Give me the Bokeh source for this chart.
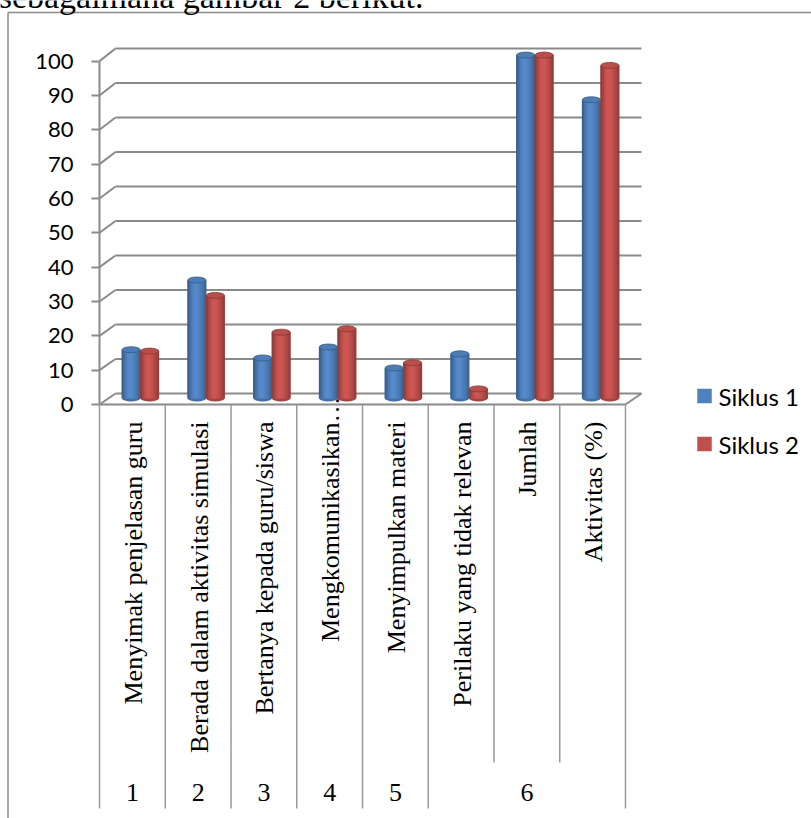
import numpy as np
from bokeh.plotting import figure
from bokeh.models import Range1d, LinearAxis, FixedTicker
from bokeh.core.properties import value
from bokeh.embed import file_html
from bokeh.resources import INLINE

# ---- data -------------------------------------------------------------
categories = [
    "Menyimak penjelasan guru",
    "Berada dalam aktivitas simulasi",
    "Bertanya kepada guru/siswa",
    "Mengkomunikasikan\u2026",
    "Menyimpulkan materi",
    "Perilaku yang tidak relevan",
    "Jumlah",
    "Aktivitas (%)",
]
group_labels = ["1", "2", "3", "4", "5", "6"]
group_spans = [(0, 1), (1, 2), (2, 3), (3, 4), (4, 5), (5, 8)]
siklus1 = [14.2, 34.5, 11.8, 15.0, 8.9, 13.0, 100.0, 87.0]
siklus2 = [13.8, 30.0, 19.3, 20.3, 10.4, 2.8, 100.0, 97.0]
series_names = ["Siklus 1", "Siklus 2"]
series_colors = ["#4F81BD", "#C0504D"]
y_ticks = list(range(0, 101, 10))
caption = "sebagaimana gambar 2 berikut."

# ---- layout (pixels) --------------------------------------------------
W, H = 811, 818
AXIS_X = 99            # pixel column of the front value axis
COL_W = 65.75          # width of one category column on the front edge
Y0 = 404.0             # pixel row of value 0 on the front edge
PPU = 3.434            # pixels per value unit
MID = (8.0, -6.0)      # depth offset of the bars
BACK = (16.0, -11.0)   # depth offset of the back wall
BACK_PPU = 3.45
GRID = "#8a8a8a"
SERIF = "Liberation Serif"
SANS = "Lato"

n_cat = len(categories)


def px2x(px):
    return (px - AXIS_X) / COL_W


def px2y(py):
    return (Y0 - py) / PPU


def shifted_ranges(dx, dy, ppu):
    base = Y0 + dy
    xr = Range1d(px2x(0) - dx / COL_W, px2x(W) - dx / COL_W)
    yr = Range1d(-(H - base) / ppu, base / ppu)
    return xr, yr


# the plotting frame covers the whole canvas
p = figure(width=W, height=H, output_backend="svg", toolbar_location=None,
           x_axis_type=None, y_axis_type=None,
           x_range=Range1d(px2x(0), px2x(W)), y_range=Range1d(px2y(H), px2y(0)),
           min_border_left=0, min_border_right=0,
           min_border_top=0, min_border_bottom=0)
p.outline_line_color = None
p.background_fill_color = "white"
p.border_fill_color = "white"

mx, my = shifted_ranges(*MID, PPU)
bx, by = shifted_ranges(*BACK, BACK_PPU)
p.extra_x_ranges = {"mid": mx, "back": bx}
p.extra_y_ranges = {"mid": my, "back": by}

# ---- outer chart border and caption text above it ---------------------
bl, bt = px2x(7.5), px2y(12)
p.segment(x0=[bl, bl], y0=[bt, bt], x1=[bl, px2x(W + 10)], y1=[px2y(H + 10), bt],
          line_color="#8c8c8c", line_width=1.5)
p.text(x=[px2x(423)], y=[px2y(-4)], text=[caption],
       text_align="right", text_baseline="middle",
       text_font=value(SERIF), text_font_size="34px", text_color="black")

# ---- back wall gridlines ----------------------------------------------
p.segment(x0=[0] * len(y_ticks), y0=y_ticks, x1=[n_cat] * len(y_ticks), y1=y_ticks,
          x_range_name="back", y_range_name="back", line_color=GRID, line_width=2)

# diagonals from the front axis to the back wall
diag_x1 = [px2x(AXIS_X + BACK[0])] * len(y_ticks)
diag_y1 = [px2y(Y0 + BACK[1] - BACK_PPU * t) for t in y_ticks]
p.segment(x0=[0] * len(y_ticks), y0=y_ticks, x1=diag_x1, y1=diag_y1,
          line_color=GRID, line_width=2)

# floor: front edge and right side
p.segment(x0=[0], y0=[0], x1=[n_cat], y1=[0], line_color=GRID, line_width=2)
p.segment(x0=[n_cat], y0=[0], x1=[px2x(AXIS_X + n_cat * COL_W + BACK[0])],
          y1=[px2y(Y0 + BACK[1])], line_color=GRID, line_width=2)

# ---- category dividers (two-level axis) -------------------------------
edges = sorted({e for span in group_spans for e in span})
div_x, div_y1 = [], []
for k in range(n_cat + 1):
    div_x.append(k)
    div_y1.append(px2y(808) if k in edges else px2y(762))
p.segment(x0=div_x, y0=[0] * len(div_x), x1=div_x, y1=div_y1,
          line_color="#9a9a9a", line_width=1.5)

# ---- cylinders --------------------------------------------------------
def shade(hex_color, f):
    r, g, b = (int(hex_color[i:i + 2], 16) for i in (1, 3, 5))
    r, g, b = (max(0, min(255, int(round(c * f)))) for c in (r, g, b))
    return f"#{r:02x}{g:02x}{b:02x}"


profile = [0.74, 0.86, 0.97, 1.05, 1.08, 1.06, 1.01, 0.95, 0.88, 0.78]
bar_w = 18.5 / COL_W
n_strip = len(profile)
strip_w = bar_w / n_strip
centers = np.arange(n_cat) + 0.5

for s, (vals, col) in enumerate(zip([siklus1, siklus2], series_colors)):
    bar_c = centers + (s - 0.5) * bar_w
    left = bar_c - bar_w / 2
    # rounded bottom
    p.ellipse(x=bar_c, y=[0] * n_cat, width=bar_w * 0.98, height=6, height_units="screen",
              x_range_name="mid", y_range_name="mid",
              fill_color=shade(col, 0.85), line_color=None)
    # body, then shaded strips over it
    p.vbar(x=bar_c, width=bar_w, top=vals, bottom=0,
           x_range_name="mid", y_range_name="mid",
           fill_color=col, line_color=None)
    for k, f in enumerate(profile):
        p.vbar(x=left + (k + 0.5) * strip_w, width=strip_w * 1.3, top=vals, bottom=0,
               x_range_name="mid", y_range_name="mid",
               fill_color=shade(col, f), line_color=None)
    # top cap
    p.ellipse(x=bar_c, y=vals, width=bar_w * 0.98, height=6, height_units="screen",
              x_range_name="mid", y_range_name="mid",
              fill_color=shade(col, 0.97), line_color=shade(col, 0.7), line_width=0.8)

# ---- y axis (pinned at the front-left edge of the floor) --------------
yaxis = LinearAxis(ticker=FixedTicker(ticks=y_ticks), bounds=(0, 100), fixed_location=0)
yaxis.axis_line_color = GRID
yaxis.axis_line_width = 2
yaxis.major_tick_line_color = GRID
yaxis.major_tick_line_width = 2
yaxis.major_tick_out = 8
yaxis.major_tick_in = 0
yaxis.minor_tick_out = 0
yaxis.minor_tick_in = 0
yaxis.major_label_standoff = 18
yaxis.major_label_text_font = SANS
yaxis.major_label_text_font_size = "22px"
yaxis.major_label_text_color = "black"
p.add_layout(yaxis, "left")

# ---- category labels (rotated) and group numbers ----------------------
lab_x = [c + 1.0 / COL_W for c in centers]
lab_y = [px2y(396) if c.endswith("\u2026") else px2y(421) for c in categories]
p.text(x=lab_x, y=lab_y, text=categories, angle=np.pi / 2,
       text_align="right", text_baseline="middle",
       text_font=value(SERIF), text_font_size="26px", text_color="black")

g_x = [(a + b) / 2 for a, b in group_spans]
p.text(x=g_x, y=[px2y(792)] * len(g_x), text=group_labels,
       text_align="center", text_baseline="middle",
       text_font=value(SERIF), text_font_size="26px", text_color="black")

# ---- legend -----------------------------------------------------------
leg_y = [px2y(395.5), px2y(443.5)]
p.scatter(x=[px2x(704)] * 2, y=leg_y, marker="square", size=14.5,
          fill_color=series_colors, line_color=None)
p.text(x=[px2x(718)] * 2, y=leg_y, text=series_names,
       text_align="left", text_baseline="middle",
       text_font=value(SANS), text_font_size="24px", text_color="black")

open("out.html", "w").write(file_html(p, INLINE))
